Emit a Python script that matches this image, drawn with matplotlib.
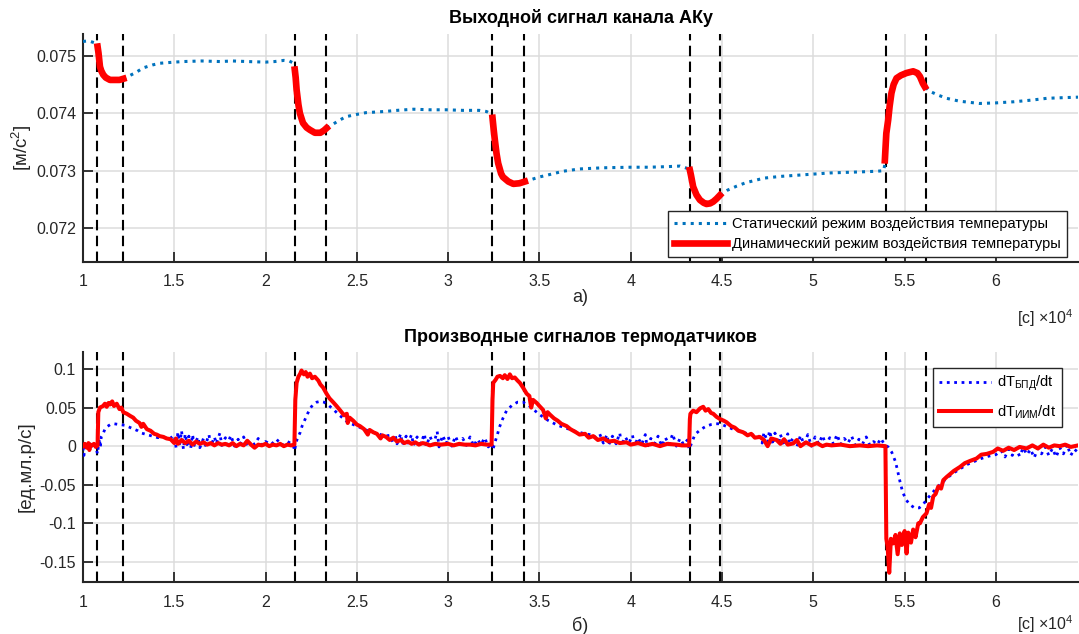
import numpy as np
import matplotlib
matplotlib.use("Agg")
import matplotlib.pyplot as plt
from matplotlib.ticker import FuncFormatter, FixedLocator

plt.rcParams['font.family'] = ['Liberation Sans', 'DejaVu Sans']
plt.rcParams['mathtext.fontset'] = 'custom'
plt.rcParams['mathtext.rm'] = 'Liberation Sans'
plt.rcParams['mathtext.it'] = 'Liberation Sans:italic'
plt.rcParams['mathtext.bf'] = 'Liberation Sans:bold'
plt.rcParams['axes.unicode_minus'] = False

# время в единицах 1e4 с
bounds = [1.078, 1.220, 2.161, 2.332, 3.242, 3.415, 4.324, 4.488, 5.398, 5.620]

# а) статический режим (сегменты разделены nan)
stat_x = [1.00, 1.03, 1.06, 1.08, np.nan,
          1.22, 1.24, 1.29, 1.33, 1.38, 1.42, 1.50, 1.55, 1.65, 1.75, 1.82, 1.90, 2.00, 2.05, 2.10, 2.13, 2.155, np.nan,
          2.335, 2.36, 2.40, 2.44, 2.50, 2.55, 2.65, 2.72, 2.81, 2.90, 2.99, 3.08, 3.17, 3.21, 3.235, np.nan,
          3.42, 3.45, 3.50, 3.54, 3.63, 3.72, 3.85, 4.00, 4.10, 4.20, 4.27, 4.31, np.nan,
          4.49, 4.53, 4.58, 4.63, 4.73, 4.82, 4.91, 5.00, 5.09, 5.18, 5.27, 5.35, 5.385, 5.395, np.nan,
          5.615, 5.64, 5.68, 5.73, 5.80, 5.91, 6.00, 6.10, 6.20, 6.28, 6.36, 6.45]
stat_y = [0.07525, 0.07526, 0.07523, 0.07520, np.nan,
          0.07460, 0.07463, 0.07471, 0.07479, 0.07484, 0.07487, 0.07489, 0.07490, 0.07491, 0.07490, 0.07491, 0.07490, 0.07489, 0.07490, 0.07492, 0.07491, 0.07487, np.nan,
          0.07375, 0.07379, 0.07387, 0.07394, 0.07398, 0.07401, 0.07403, 0.07405, 0.07407, 0.07406, 0.07406, 0.07405, 0.07405, 0.07403, 0.07399, np.nan,
          0.07281, 0.07284, 0.07289, 0.07292, 0.07299, 0.07303, 0.07305, 0.07306, 0.07306, 0.07307, 0.07308, 0.07304, np.nan,
          0.07257, 0.07266, 0.07273, 0.07279, 0.07287, 0.07290, 0.07292, 0.07294, 0.07296, 0.07297, 0.07298, 0.07299, 0.07300, 0.07315, np.nan,
          0.07445, 0.07438, 0.07432, 0.07426, 0.07421, 0.07417, 0.07418, 0.07420, 0.07423, 0.07426, 0.07427, 0.07428]

# а) динамический режим
dyn_x = [1.080, 1.085, 1.093, 1.100, 1.111, 1.125, 1.148, 1.18, 1.20, 1.221, np.nan,
         2.16, 2.165, 2.17, 2.18, 2.188, 2.205, 2.225, 2.243, 2.27, 2.30, 2.32, 2.334, np.nan,
         3.243, 3.25, 3.256, 3.265, 3.274, 3.29, 3.30, 3.33, 3.357, 3.39, 3.42, np.nan,
         4.324, 4.33, 4.342, 4.36, 4.379, 4.40, 4.415, 4.435, 4.452, 4.47, 4.488, np.nan,
         5.392, 5.396, 5.40, 5.41, 5.418, 5.428, 5.44, 5.456, 5.48, 5.51, 5.547, 5.57, 5.584, 5.60, 5.611]
dyn_y = [0.07516, 0.07505, 0.07481, 0.07474, 0.07467, 0.07462, 0.07458, 0.07458, 0.07458, 0.07460, np.nan,
         0.07476, 0.07462, 0.07441, 0.07415, 0.07400, 0.07383, 0.07375, 0.07371, 0.07366, 0.07366, 0.07370, 0.07374, np.nan,
         0.07392, 0.07370, 0.07353, 0.07330, 0.07313, 0.07295, 0.07289, 0.07281, 0.07277, 0.07278, 0.07281, np.nan,
         0.07301, 0.07292, 0.07272, 0.07258, 0.07249, 0.07244, 0.07242, 0.07243, 0.07246, 0.07251, 0.07257, np.nan,
         0.07318, 0.07342, 0.07365, 0.07388, 0.07412, 0.07435, 0.07450, 0.07461, 0.07466, 0.07470, 0.07473, 0.07470, 0.07464, 0.07452, 0.07446]

# б) производная БПД
bpd_x = [1.00, 1.005, 1.01, 1.02, 1.03, 1.04, 1.05, 1.06, 1.07, 1.08, 1.085, 1.09, 1.095, 1.10, 1.11, 1.12, 1.13, 1.15, 1.17, 1.20,
         1.23, 1.27, 1.30, 1.32, 1.35, 1.38, 1.41, 1.44, 1.47, 1.50, 1.51, 1.52, 1.53, 1.54, 1.55, 1.56, 1.57, 1.58, 1.59, 1.60,
         1.61, 1.63, 1.64, 1.66, 1.67, 1.69, 1.70, 1.72, 1.73, 1.75, 1.76, 1.78, 1.79, 1.81, 1.83, 1.85, 1.86, 1.88, 1.90, 1.92,
         1.94, 1.96, 1.98, 2.00, 2.03, 2.06, 2.09, 2.12, 2.15, 2.16, 2.165, 2.175, 2.19, 2.20, 2.215, 2.23, 2.245, 2.26, 2.28, 2.30,
         2.32, 2.34, 2.37, 2.40, 2.43, 2.45, 2.47, 2.50, 2.53, 2.56, 2.59, 2.62, 2.65, 2.68, 2.70, 2.71, 2.72, 2.74, 2.75, 2.77,
         2.78, 2.80, 2.81, 2.83, 2.85, 2.87, 2.88, 2.90, 2.92, 2.94, 2.95, 2.97, 2.99, 3.00, 3.02, 3.04, 3.06, 3.08, 3.10, 3.12,
         3.14, 3.16, 3.18, 3.20, 3.22, 3.24, 3.245, 3.255, 3.27, 3.28, 3.30, 3.32, 3.35, 3.38, 3.41, 3.44, 3.47, 3.50, 3.55, 3.60,
         3.65, 3.70, 3.75, 3.80, 3.82, 3.83, 3.85, 3.87, 3.88, 3.90, 3.92, 3.94, 3.95, 3.97, 3.99, 4.01, 4.02, 4.04, 4.06, 4.08,
         4.09, 4.11, 4.13, 4.15, 4.17, 4.19, 4.21, 4.23, 4.25, 4.27, 4.29, 4.31, 4.32, 4.335, 4.35, 4.361, 4.38, 4.40, 4.415, 4.44,
         4.465, 4.488, 4.52, 4.56, 4.614, 4.66, 4.70, 4.72, 4.73, 4.75, 4.76, 4.78, 4.79, 4.81, 4.82, 4.84, 4.86, 4.87, 4.89, 4.91,
         4.93, 4.95, 4.97, 4.99, 5.01, 5.03, 5.05, 5.07, 5.09, 5.11, 5.13, 5.15, 5.17, 5.19, 5.21, 5.23, 5.25, 5.27, 5.29, 5.31,
         5.33, 5.35, 5.37, 5.39, 5.41, 5.43, 5.45, 5.46, 5.475, 5.49, 5.51, 5.53, 5.555, 5.58, 5.60, 5.625, 5.65, 5.68, 5.72, 5.76,
         5.80, 5.84, 5.88, 5.92, 5.96, 6.00, 6.03, 6.05, 6.07, 6.09, 6.11, 6.13, 6.15, 6.17, 6.19, 6.21, 6.23, 6.25, 6.27, 6.29,
         6.31, 6.33, 6.35, 6.37, 6.39, 6.41, 6.43, 6.45]
bpd_y = [-0.002, -0.012, -0.004, 0.004, -0.003, 0.005, 0.000, 0.006, -0.002, -0.010, 0.002, 0.010, -0.002, 0.012, 0.016, 0.022, 0.025, 0.028, 0.029, 0.028,
         0.027, 0.023, 0.020, 0.017, 0.015, 0.013, 0.011, 0.012, 0.009, 0.014, -0.002, 0.018, 0.003, 0.020, -0.004, 0.016, 0.002, 0.013, -0.003, 0.015,
         0.001, 0.012, -0.002, 0.010, 0.001, 0.015, 0.000, 0.012, 0.003, 0.017, 0.001, 0.011, 0.002, 0.014, 0.000, 0.009, 0.002, 0.012, -0.001, 0.007,
         0.002, 0.010, 0.001, 0.006, 0.002, 0.009, 0.001, 0.006, 0.002, -0.006, 0.004, 0.010, 0.018, 0.026, 0.034, 0.042, 0.049, 0.054, 0.057, 0.058,
         0.057, 0.054, 0.048, 0.041, 0.035, 0.031, 0.029, 0.026, 0.023, 0.020, 0.018, 0.016, 0.013, 0.014, 0.004, 0.015, 0.003, 0.016, 0.002, 0.013,
         0.004, 0.015, 0.001, 0.012, 0.003, 0.016, 0.000, 0.013, 0.002, 0.019, -0.001, 0.014, 0.003, 0.012, 0.000, 0.013, 0.002, 0.010, 0.001, 0.012,
         0.000, 0.009, 0.002, 0.011, -0.001, 0.004, -0.005, 0.004, 0.015, 0.024, 0.036, 0.046, 0.053, 0.057, 0.057, 0.053, 0.047, 0.041, 0.033, 0.027,
         0.023, 0.019, 0.016, 0.014, 0.006, 0.016, 0.004, 0.015, 0.002, 0.013, 0.003, 0.017, 0.001, 0.012, 0.004, 0.014, 0.000, 0.011, 0.002, 0.015,
         -0.001, 0.010, 0.003, 0.013, 0.000, 0.011, 0.002, 0.016, 0.000, 0.010, 0.002, 0.008, -0.004, 0.005, 0.014, 0.017, 0.021, 0.024, 0.026, 0.028,
         0.029, 0.029, 0.026, 0.022, 0.018, 0.015, 0.013, 0.004, 0.018, 0.005, 0.020, 0.002, 0.017, 0.003, 0.015, 0.001, 0.016, 0.003, 0.011, -0.001,
         0.014, 0.002, 0.015, 0.000, 0.012, 0.003, 0.014, 0.001, 0.011, 0.003, 0.015, 0.002, 0.010, 0.004, 0.013, 0.001, 0.009, 0.003, 0.012, 0.001,
         0.006, 0.002, 0.010, 0.002, -0.001, -0.008, -0.020, -0.030, -0.046, -0.060, -0.070, -0.076, -0.080, -0.080, -0.076, -0.068, -0.061, -0.053, -0.044, -0.036,
         -0.030, -0.024, -0.020, -0.016, -0.013, -0.011, -0.006, -0.014, -0.004, -0.012, -0.003, -0.013, -0.002, -0.011, -0.004, -0.015, -0.003, -0.010, -0.001, -0.012,
         -0.003, -0.014, -0.002, -0.010, 0.002, -0.012, -0.004, -0.008]

# б) производная ИИМ
iim_x = [1.00, 1.01, 1.02, 1.03, 1.035, 1.04, 1.05, 1.06, 1.07, 1.08, 1.084, 1.093, 1.11, 1.12, 1.13, 1.14, 1.148, 1.16, 1.17, 1.185,
         1.20, 1.21, 1.221, 1.24, 1.26, 1.275, 1.29, 1.31, 1.32, 1.33, 1.35, 1.37, 1.39, 1.404, 1.42, 1.44, 1.458, 1.48, 1.50, 1.51,
         1.52, 1.54, 1.56, 1.58, 1.60, 1.62, 1.64, 1.66, 1.68, 1.70, 1.72, 1.74, 1.76, 1.78, 1.80, 1.82, 1.84, 1.86, 1.88, 1.90,
         1.92, 1.94, 1.96, 1.98, 2.00, 2.02, 2.04, 2.06, 2.08, 2.10, 2.12, 2.14, 2.158, 2.163, 2.170, 2.18, 2.19, 2.197, 2.21, 2.22,
         2.23, 2.243, 2.255, 2.27, 2.289, 2.30, 2.315, 2.334, 2.35, 2.37, 2.389, 2.41, 2.43, 2.445, 2.45, 2.46, 2.48, 2.50, 2.517, 2.54,
         2.56, 2.57, 2.59, 2.61, 2.63, 2.64, 2.66, 2.68, 2.70, 2.72, 2.74, 2.76, 2.78, 2.80, 2.82, 2.84, 2.86, 2.88, 2.90, 2.93,
         2.96, 3.00, 3.03, 3.06, 3.09, 3.12, 3.15, 3.18, 3.21, 3.238, 3.243, 3.247, 3.26, 3.27, 3.284, 3.30, 3.31, 3.325, 3.338, 3.35,
         3.365, 3.38, 3.393, 3.41, 3.43, 3.445, 3.455, 3.465, 3.485, 3.50, 3.52, 3.535, 3.545, 3.557, 3.58, 3.60, 3.62, 3.649, 3.67, 3.70,
         3.72, 3.75, 3.77, 3.795, 3.82, 3.85, 3.88, 3.91, 3.94, 3.977, 4.00, 4.04, 4.08, 4.12, 4.16, 4.20, 4.251, 4.28, 4.32, 4.324,
         4.327, 4.342, 4.36, 4.38, 4.397, 4.41, 4.425, 4.44, 4.452, 4.47, 4.49, 4.51, 4.525, 4.55, 4.57, 4.59, 4.616, 4.64, 4.66, 4.68,
         4.707, 4.73, 4.75, 4.77, 4.799, 4.82, 4.84, 4.86, 4.89, 4.91, 4.93, 4.96, 4.99, 5.02, 5.05, 5.072, 5.10, 5.15, 5.20, 5.255,
         5.30, 5.35, 5.395, 5.400, 5.407, 5.416, 5.425, 5.438, 5.45, 5.462, 5.474, 5.485, 5.50, 5.511, 5.52, 5.535, 5.547, 5.56, 5.575, 5.584,
         5.60, 5.62, 5.635, 5.645, 5.657, 5.67, 5.685, 5.70, 5.712, 5.73, 5.75, 5.77, 5.803, 5.83, 5.86, 5.894, 5.92, 5.95, 5.985, 6.01,
         6.04, 6.07, 6.10, 6.13, 6.168, 6.20, 6.23, 6.26, 6.29, 6.32, 6.35, 6.38, 6.41, 6.45]
iim_y = [0.000, 0.003, -0.002, 0.004, -0.005, 0.002, 0.001, 0.003, -0.001, 0.001, 0.044, 0.050, 0.052, 0.055, 0.051, 0.056, 0.054, 0.058, 0.052, 0.055,
         0.048, 0.050, 0.044, 0.042, 0.039, 0.037, 0.033, 0.030, 0.025, 0.029, 0.022, 0.020, 0.016, 0.015, 0.013, 0.012, 0.010, 0.009, 0.004, 0.010,
         0.003, 0.008, 0.004, 0.007, 0.002, 0.006, 0.003, 0.005, 0.002, 0.004, 0.001, 0.004, 0.002, 0.003, 0.001, 0.004, 0.000, 0.003, 0.001, 0.007,
         0.002, -0.002, 0.002, 0.001, 0.003, 0.000, 0.002, 0.001, 0.003, 0.000, 0.002, 0.001, 0.002, 0.060, 0.082, 0.090, 0.094, 0.098, 0.093, 0.096,
         0.090, 0.094, 0.088, 0.090, 0.085, 0.080, 0.076, 0.068, 0.062, 0.057, 0.052, 0.046, 0.040, 0.042, 0.030, 0.037, 0.033, 0.028, 0.026, 0.022,
         0.015, 0.021, 0.018, 0.016, 0.010, 0.014, 0.012, 0.008, 0.011, 0.006, 0.008, 0.004, 0.006, 0.003, 0.005, 0.002, 0.004, 0.003, 0.001, 0.003,
         0.002, 0.003, 0.001, 0.003, 0.002, 0.002, 0.001, 0.003, 0.002, 0.002, 0.060, 0.082, 0.086, 0.090, 0.091, 0.088, 0.092, 0.087, 0.093, 0.088,
         0.089, 0.085, 0.082, 0.076, 0.068, 0.065, 0.050, 0.060, 0.056, 0.052, 0.047, 0.036, 0.044, 0.041, 0.036, 0.033, 0.029, 0.026, 0.022, 0.018,
         0.015, 0.016, 0.011, 0.013, 0.008, 0.010, 0.006, 0.007, 0.004, 0.005, 0.002, 0.004, 0.001, 0.003, 0.000, 0.003, 0.002, 0.001, 0.001, 0.035,
         0.042, 0.046, 0.044, 0.049, 0.051, 0.046, 0.048, 0.043, 0.042, 0.038, 0.035, 0.033, 0.031, 0.026, 0.024, 0.020, 0.018, 0.014, 0.016, 0.011,
         0.012, 0.008, 0.000, 0.010, 0.008, 0.003, 0.009, 0.002, 0.0035, 0.008, 0.000, 0.005, 0.001, 0.004, 0.000, 0.002, 0.001, 0.002, 0.000, 0.001,
         0.000, 0.001, 0.000, -0.120, -0.130, -0.164, -0.120, -0.126, -0.115, -0.140, -0.113, -0.128, -0.110, -0.139, -0.112, -0.125, -0.108, -0.118, -0.100, -0.100,
         -0.092, -0.087, -0.075, -0.080, -0.065, -0.062, -0.052, -0.055, -0.044, -0.040, -0.036, -0.032, -0.027, -0.022, -0.019, -0.016, -0.011, -0.010, -0.0074, -0.003,
         -0.006, -0.002, -0.005, -0.001, -0.003, 0.001, -0.003, 0.002, -0.002, 0.001, 0.000, 0.002, -0.001, 0.001]

xticks = [1, 1.5, 2, 2.5, 3, 3.5, 4, 4.5, 5, 5.5, 6]
yticks_top = [0.072, 0.073, 0.074, 0.075]
yticks_bot = [-0.15, -0.1, -0.05, 0, 0.05, 0.1]

txt = '#262626'
fig = plt.figure(figsize=(10.79, 6.34), dpi=100)
ax1 = fig.add_axes([0.0769, 0.5868, 0.9222, 0.3596])
ax2 = fig.add_axes([0.0769, 0.0820, 0.9222, 0.3628])


def style(ax, yticks, fmt):
    ax.set_xlim(1.0, 6.45)
    ax.xaxis.set_major_locator(FixedLocator(xticks))
    ax.yaxis.set_major_locator(FixedLocator(yticks))
    ax.xaxis.set_major_formatter(FuncFormatter(lambda v, p: f"{v:g}"))
    ax.yaxis.set_major_formatter(FuncFormatter(fmt))
    ax.grid(True, color='#dcdcdc', lw=1.1)
    ax.set_axisbelow(True)
    for s in ['top', 'right']:
        ax.spines[s].set_visible(False)
    for s in ['left', 'bottom']:
        ax.spines[s].set_color(txt)
        ax.spines[s].set_linewidth(1.5)
    ax.tick_params(direction='in', length=7, width=1.3, colors=txt,
                   labelsize=11.5, labelcolor=txt)
    ax.tick_params(axis='x', pad=9)
    ax.tick_params(axis='y', pad=5)
    for b in bounds:
        ax.axvline(b, color='k', lw=1.5, ls=(0, (5, 2.6)), zorder=1)


style(ax1, yticks_top, lambda v, p: f"{v:.3f}")
style(ax2, yticks_bot, lambda v, p: f"{v:g}")
ax1.set_ylim(0.07141, 0.07538)
ax2.set_ylim(-0.176, 0.122)

ax1.plot(stat_x, stat_y, color='#0072BD', lw=2.2, ls=':', zorder=3,
         label='Статический режим воздействия температуры')
ax1.plot(dyn_x, dyn_y, color='#ff0000', lw=4.8, zorder=4,
         label='Динамический режим воздействия температуры')
ax2.plot(bpd_x, bpd_y, color='#0000ff', lw=2, ls=':', zorder=3,
         label=r'dT$_{\mathregular{БПД}}$/dt')
ax2.plot(iim_x, iim_y, color='#ff0000', lw=2.9, zorder=4,
         label=r'dT$_{\mathregular{ИИМ}}$/dt')

for ax, loc, anchor, spacing in [(ax1, 'lower right', (0.989, 0.022), 0.4),
                                 (ax2, 'upper right', (0.984, 0.930), 0.7)]:
    leg = ax.legend(loc=loc, bbox_to_anchor=anchor, borderaxespad=0,
                    fancybox=False, framealpha=1, edgecolor=txt,
                    fontsize=10.5, handlelength=3.6, borderpad=0.4,
                    labelspacing=spacing, handletextpad=0.4)
    leg.get_frame().set_linewidth(1.0)

ax1.set_ylabel('[м/с$^{2}$]', fontsize=13.5, color=txt)
ax2.set_ylabel('[ед.мл.р/с]', fontsize=13.5, color=txt)
ax1.yaxis.set_label_coords(-0.049, 0.5)
ax2.yaxis.set_label_coords(-0.049, 0.5)

fig.text(0.538, 1 - 18 / 634, 'Выходной сигнал канала АКу', ha='center', va='center',
         fontsize=13, fontweight='bold', color='k')
fig.text(0.538, 1 - 338 / 634, 'Производные сигналов термодатчиков', ha='center', va='center',
         fontsize=13, fontweight='bold', color='k')
fig.text(0.538, 1 - 298 / 634, 'а)', ha='center', va='center', fontsize=13, color=txt)
fig.text(0.538, 1 - 626 / 634, 'б)', ha='center', va='center', fontsize=13, color=txt)
for yy in [318, 624]:
    fig.text(0.995, 1 - yy / 634, '[с] ×10$^{4}$', ha='right', va='center',
             fontsize=11.5, color=txt)

fig.savefig('out.png', dpi=100)
